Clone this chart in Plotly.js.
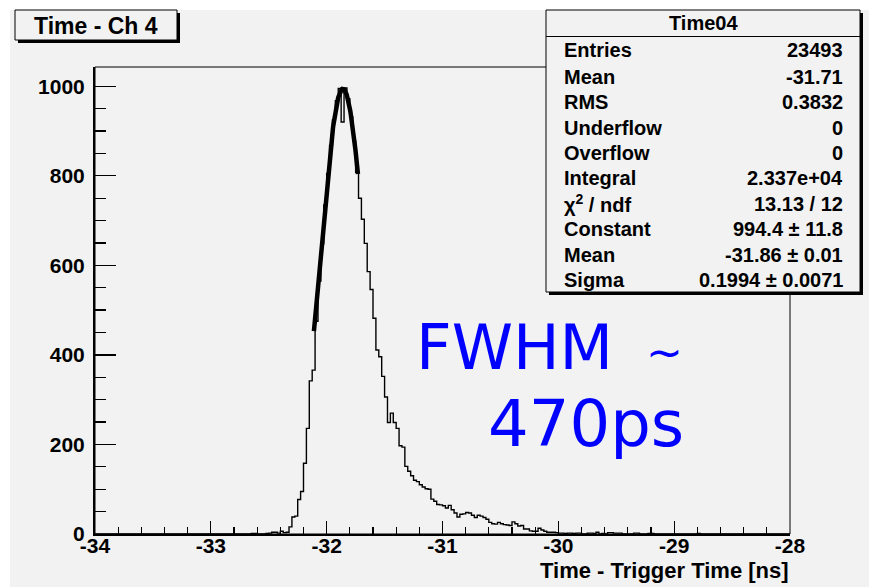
<!DOCTYPE html>
<html>
<head>
<meta charset="utf-8">
<script src="https://cdn.plot.ly/plotly-3.0.1.min.js"></script>
<style>
  html, body { margin: 0; padding: 0; background: #ffffff; }
  #wrap { position: relative; width: 869px; height: 587px; overflow: hidden; }
  #canvasbg { position: absolute; left: 10px; top: 10px; width: 859px; height: 577px; background: #f2f2f2; }
  #chart { position: absolute; left: 0; top: 0; width: 869px; height: 587px; }
</style>
</head>
<body>
<div id="wrap"><div id="canvasbg"></div><div id="chart"></div></div>
<script>
// ---------------- data ----------------
const histLow = -34;
const histHigh = -28;
const binWidth = 0.025;
const firstBin = 49;           // index of first listed bin (edge = histLow + firstBin*binWidth)
const counts = [
  0, 0, 0, 0, 0, 1, 1, 0, 0, 0,
  1, 2, 4, 4, 2, 6, 3, 4, 16, 38,
  40, 77, 95, 158, 236, 342, 366, 475, 565, 648,
  735, 805, 868, 925, 968, 995, 920, 996, 972, 932,
  878, 808, 750, 703, 649, 586, 546, 482, 411, 396,
  352, 306, 249, 270, 249, 236, 197, 194, 151, 140,
  130, 120, 117, 110, 105, 101, 100, 78, 73, 66,
  65, 63, 58, 64, 54, 47, 38, 44, 45, 48,
  47, 42, 37, 42, 40, 37, 33, 26, 23, 22,
  26, 23, 21, 20, 19, 27, 23, 18, 19, 11,
  11, 7, 6, 6, 13, 9, 6, 4, 4, 4,
  3, 2, 2, 1, 2, 2, 1, 2, 2, 0,
  0, 2, 2, 1, 4, 0, 1, 0, 3, 3,
  2, 2, 2, 0, 0, 0, 0, 2, 2, 0,
  0, 0, 1, 1, 0, 0, 0, 0, 0, 0,
  0, 0, 0, 0, 0, 0, 0, 0, 0, 1,
  0
];
const xTickVals = [-34, -33, -32, -31, -30, -29, -28];
const yTickVals = [0, 200, 400, 600, 800, 1000];
const fitConstant = 994.4;
const fitMean = -31.86;
const fitSigma = 0.1994;
const fitRange = [-32.11, -31.73];

const histTitle = "Time - Ch 4";
const xTitle = "Time - Trigger Time [ns]";
const statsName = "Time04";
const statLabels = ["Entries", "Mean", "RMS", "Underflow", "Overflow", "Integral",
  "χ<sup>2</sup> / ndf", "Constant", "Mean", "Sigma"];
const statValues = ["23493", "-31.71", "0.3832", "0", "0", "2.337e+04",
  "13.13 / 12", "994.4 ± 11.8", "-31.86 ± 0.01", "0.1994 ± 0.0071"];
const noteWord = "FWHM";
const noteTilde = "~";
const noteValue = "470ps";

// ---------------- geometry helpers ----------------
const W = 869, H = 587;
const M = { l: 95, r: 79, t: 67, b: 53 };
const PW = W - M.l - M.r, PH = H - M.t - M.b;
const fx = px => (px - M.l) / PW;
const fy = py => (H - M.b - py) / PH;

// ---------------- histogram steps ----------------
const hx = [histLow], hy = [0];
for (let i = 0; i < counts.length; i++) {
  hx.push(histLow + (firstBin + i) * binWidth);
  hy.push(counts[i]);
}
hx.push(histLow + (firstBin + counts.length) * binWidth);
hy.push(counts[counts.length - 1]);
hx.push(histLow + (firstBin + counts.length) * binWidth);
hy.push(0);
hx.push(histHigh); hy.push(0);

const histTrace = {
  type: 'scatter', mode: 'lines', x: hx, y: hy,
  line: { shape: 'hv', color: '#000000', width: 1.4 },
  hoverinfo: 'skip', showlegend: false
};

// ---------------- fit curve ----------------
const fxs = [], fys = [];
const nFit = 120;
for (let i = 0; i <= nFit; i++) {
  const x = fitRange[0] + (fitRange[1] - fitRange[0]) * i / nFit;
  fxs.push(x);
  fys.push(fitConstant * Math.exp(-0.5 * Math.pow((x - fitMean) / fitSigma, 2)));
}
const fitTrace = {
  type: 'scatter', mode: 'lines', x: fxs, y: fys,
  line: { color: '#000000', width: 4.5 }, hoverinfo: 'skip', showlegend: false
};

// ---------------- layout ----------------
const boldFont = (size) => ({ family: 'Liberation Sans, Arial, sans-serif', size: size, color: '#000000', weight: 'bold' });
const shapes = [];
const annotations = [];

// plot frame (thin top/right)
shapes.push({ type: 'rect', xref: 'paper', yref: 'paper', x0: 0, x1: 1, y0: 0, y1: 1,
  line: { color: '#000000', width: 1 }, fillcolor: 'rgba(0,0,0,0)', layer: 'above' });

// title box with shadow
const tb = { x0: 15, x1: 177, y0: 10, y1: 40 };
shapes.push({ type: 'rect', xref: 'paper', yref: 'paper', x0: fx(tb.x0 + 3), x1: fx(tb.x1 + 3), y0: fy(tb.y1 + 3), y1: fy(tb.y0 + 3),
  line: { width: 0 }, fillcolor: '#000000', layer: 'above' });
shapes.push({ type: 'rect', xref: 'paper', yref: 'paper', x0: fx(tb.x0), x1: fx(tb.x1), y0: fy(tb.y1), y1: fy(tb.y0),
  line: { color: '#000000', width: 1 }, fillcolor: '#f2f2f2', layer: 'above' });
annotations.push({ xref: 'paper', yref: 'paper', x: fx((tb.x0 + tb.x1) / 2), y: fy(26), xanchor: 'center', yanchor: 'middle',
  text: histTitle, showarrow: false, font: boldFont(23) });

// stats box with shadow
const sb = { x0: 546, x1: 860, y0: 10, y1: 292 };
shapes.push({ type: 'rect', xref: 'paper', yref: 'paper', x0: fx(sb.x0 + 3), x1: fx(sb.x1 + 3), y0: fy(sb.y1 + 3), y1: fy(sb.y0 + 3),
  line: { width: 0 }, fillcolor: '#000000', layer: 'above' });
shapes.push({ type: 'rect', xref: 'paper', yref: 'paper', x0: fx(sb.x0), x1: fx(sb.x1), y0: fy(sb.y1), y1: fy(sb.y0),
  line: { color: '#000000', width: 1 }, fillcolor: '#f2f2f2', layer: 'above' });
shapes.push({ type: 'line', xref: 'paper', yref: 'paper', x0: fx(sb.x0), x1: fx(sb.x1), y0: fy(36.5), y1: fy(36.5),
  line: { color: '#000000', width: 1 }, layer: 'above' });
annotations.push({ xref: 'paper', yref: 'paper', x: fx((sb.x0 + sb.x1) / 2), y: fy(23.5), xanchor: 'center', yanchor: 'middle',
  text: statsName, showarrow: false, font: boldFont(20) });
const rowY = [50, 76.5, 102, 127.5, 152.5, 178, 203.5, 229.5, 255, 279.5];
for (let i = 0; i < statLabels.length; i++) {
  annotations.push({ xref: 'paper', yref: 'paper', x: fx(562), y: fy(rowY[i]), xanchor: 'left', yanchor: 'middle',
    text: statLabels[i], showarrow: false, font: boldFont(20) });
  annotations.push({ xref: 'paper', yref: 'paper', x: fx(845), y: fy(rowY[i]), xanchor: 'right', yanchor: 'middle',
    text: statValues[i], showarrow: false, font: boldFont(20) });
}

// x axis title (right aligned, like ROOT)
annotations.push({ xref: 'paper', yref: 'paper', x: fx(791), y: fy(570), xanchor: 'right', yanchor: 'middle',
  text: xTitle, showarrow: false, font: boldFont(22) });

// FWHM note
const noteFont = { family: 'DejaVu Sans, sans-serif', size: 62, color: '#0000ff' };
annotations.push({ xref: 'paper', yref: 'paper', x: fx(414), y: fy(347), xanchor: 'left', yanchor: 'middle',
  text: noteWord, showarrow: false, font: noteFont });
annotations.push({ xref: 'paper', yref: 'paper', x: fx(664), y: fy(352), xanchor: 'center', yanchor: 'middle',
  text: noteTilde, showarrow: false, font: { family: 'DejaVu Sans, sans-serif', size: 44, color: '#0000ff' } });
annotations.push({ xref: 'paper', yref: 'paper', x: fx(486), y: fy(424), xanchor: 'left', yanchor: 'middle',
  text: noteValue, showarrow: false, font: { family: 'DejaVu Sans, sans-serif', size: 64, color: '#0000ff' } });

const layout = {
  width: W, height: H,
  margin: M,
  paper_bgcolor: 'rgba(0,0,0,0)',
  plot_bgcolor: 'rgba(0,0,0,0)',
  showlegend: false,
  xaxis: {
    range: [histLow, histHigh], tickmode: 'array', tickvals: xTickVals, ticktext: xTickVals.map(v => String(v)),
    ticks: 'inside', ticklen: 13, tickwidth: 1.3, tickcolor: '#000000',
    minor: { tickmode: 'linear', tick0: histLow, dtick: 0.2, ticks: 'inside', ticklen: 7, tickwidth: 1.3, tickcolor: '#000000', showgrid: false },
    showgrid: false, zeroline: false, showline: true, linecolor: '#000000', linewidth: 2,
    tickfont: boldFont(21), ticklabelstandoff: -8, fixedrange: true
  },
  yaxis: {
    range: [0, 1043], tickmode: 'array', tickvals: yTickVals, ticktext: yTickVals.map(v => String(v)),
    ticks: 'inside', ticklen: 21, tickwidth: 1.3, tickcolor: '#000000',
    minor: { tickmode: 'linear', tick0: 0, dtick: 50, ticks: 'inside', ticklen: 11, tickwidth: 1.3, tickcolor: '#000000', showgrid: false },
    showgrid: false, zeroline: false, showline: true, linecolor: '#000000', linewidth: 2,
    tickfont: boldFont(21), ticklabelstandoff: 4, fixedrange: true
  },
  shapes: shapes,
  annotations: annotations
};

Plotly.newPlot('chart', [histTrace, fitTrace], layout, { staticPlot: true, displayModeBar: false });
</script>
</body>
</html>
